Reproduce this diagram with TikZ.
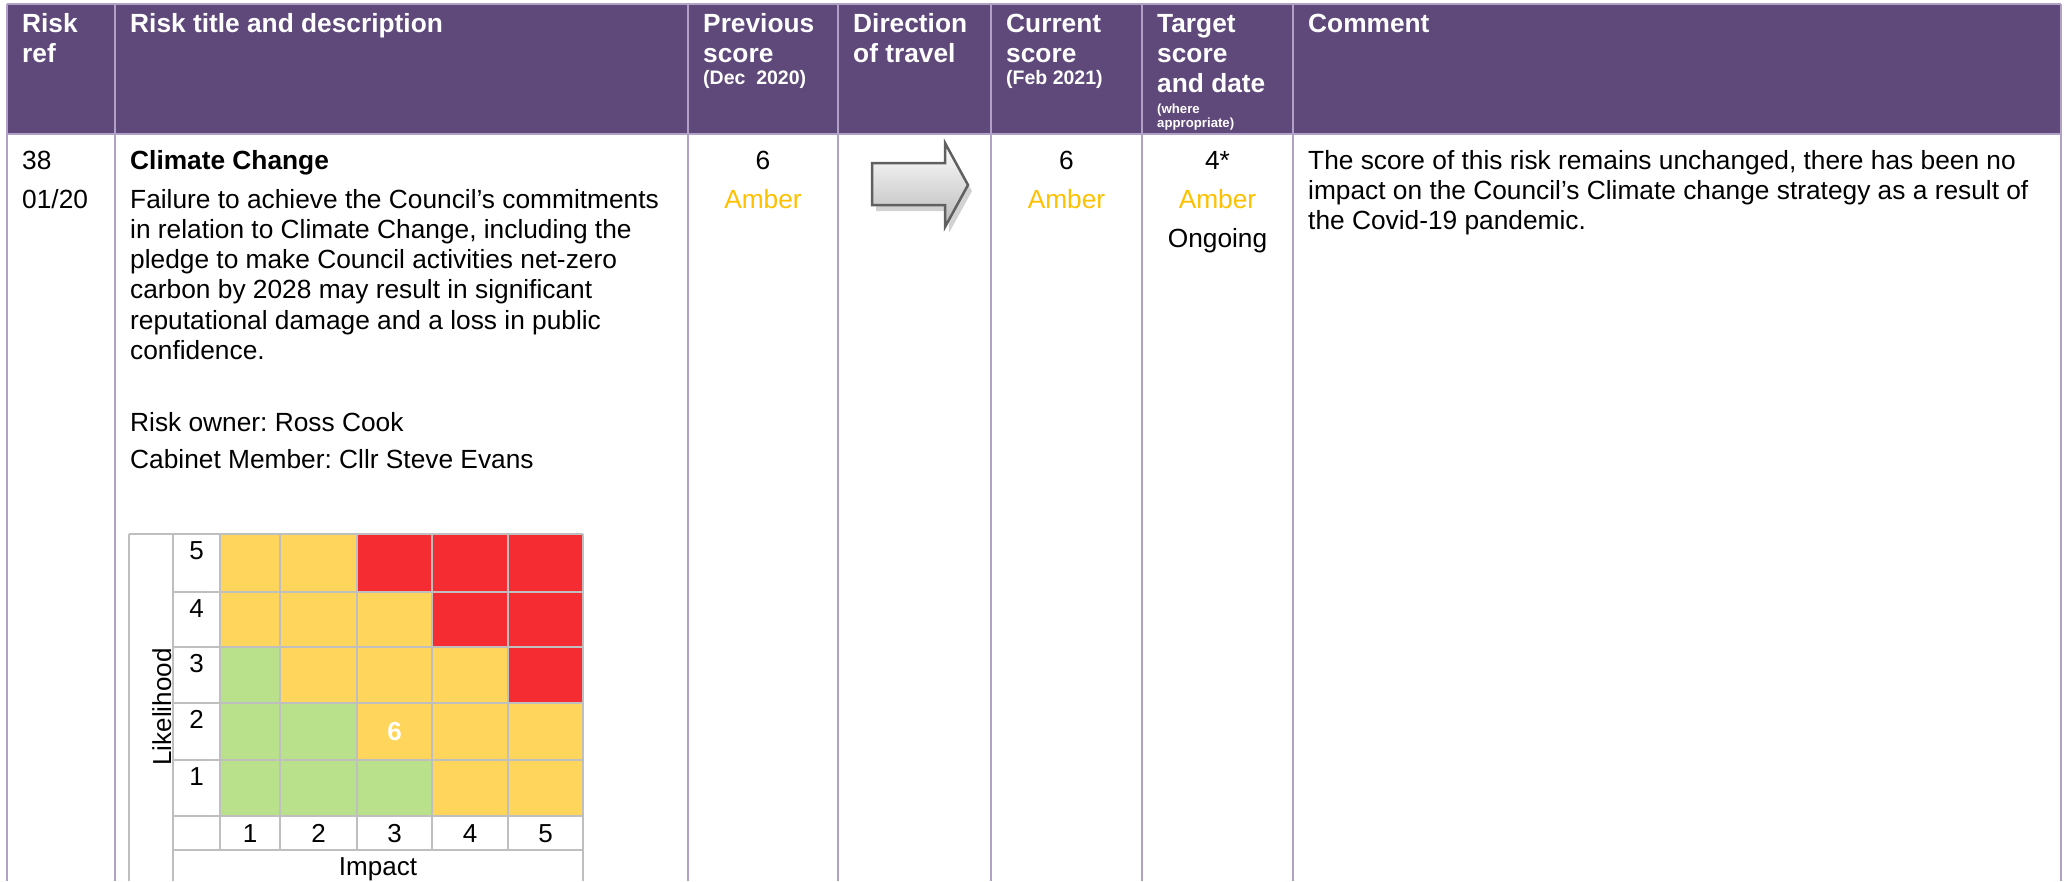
\documentclass[tikz,border=0pt]{standalone}
\usepackage{fontspec}
\setmainfont{Liberation Sans}
\frenchspacing
\definecolor{hdpurple}{HTML}{5F497A}
\definecolor{lnpurple}{HTML}{B2A1C7}
\definecolor{amber}{HTML}{FFC000}
\definecolor{mxa}{HTML}{FFD65B}
\definecolor{mxr}{HTML}{F52C32}
\definecolor{mxg}{HTML}{B9E08A}
\definecolor{mxgray}{HTML}{BFBFBF}
\tikzset{
	hd/.style = {anchor=base west, inner sep=0pt, text=white, font=\bfseries\fontsize{26.3}{30}\selectfont},
	hdsm/.style = {hd, font=\bfseries\fontsize{19.5}{22}\selectfont},
	hdxs/.style = {hd, font=\bfseries\fontsize{13.2}{15}\selectfont},
	txt/.style = {anchor=base west, inner sep=0pt, font=\fontsize{26.3}{30.3}\selectfont},
	ctxt/.style = {txt, anchor=base},
	amb/.style = {ctxt, text=amber},
	mxnum/.style = {anchor=base, inner sep=0pt, font=\fontsize{26}{30}\selectfont},
	tblline/.style = {lnpurple, line width=2pt},
	mxline/.style = {mxgray, line width=2pt}
}
\begin{document}
\begin{tikzpicture}[x=1pt, y=-1pt]
	\useasboundingbox (0,0) rectangle (2067,881);
	\fill[hdpurple] (7,4) rectangle (2061,134);
	\foreach \x/\y/\t [count=\i] in {22/32/Risk, 22/62/ref, 130/32/Risk title and description, 703/32/Previous, 703/62/score, 853/32/Direction, 853/62/of travel, 1006/32/Current, 1006/62/score, 1157/32/Target, 1157/62/score, 1157/92/and date, 1308/32/Comment}
		\node[hd] (hd\i) at (\x,\y) {\t};
	\node[hdsm] (prevdate) at (703,84) {(Dec\ \ 2020)};
	\node[hdsm] (curdate) at (1006,84) {(Feb 2021)};
	\node[hdxs] (where1) at (1157,113) {(where};
	\node[hdxs] (where2) at (1157,127) {appropriate)};
	\draw[tblline] (7,4) -- (2061,4);
	\draw[tblline] (7,134) -- (2061,134);
	\foreach \x in {7,115,688,838,991,1142,1293,2061}
		\draw[tblline] (\x,4) -- (\x,881);
	\node[txt] (ref) at (22,169) {38};
	\node[txt] (refdate) at (22,208) {01/20};
	\node[txt, font=\bfseries\fontsize{26.3}{30.3}\selectfont] (title) at (130,169) {Climate Change};
	\foreach \t [count=\i] in {Failure to achieve the Council’s commitments, {in relation to Climate Change, including the}, pledge to make Council activities net-zero, carbon by 2028 may result in significant, reputational damage and a loss in public, confidence.}
		\node[txt] (desc\i) at (130,177.7+30.3*\i) {\t};
	\node[txt] (owner) at (130,431) {Risk owner: Ross Cook};
	\node[txt] (member) at (130,468) {Cabinet Member: Cllr Steve Evans};
	\node[ctxt] (prevscore) at (763,169) {6};
	\node[amb] (prevrag) at (763,208) {Amber};
	\node[ctxt] (curscore) at (1066.5,169) {6};
	\node[amb] (currag) at (1066.5,208) {Amber};
	\node[ctxt] (tgtscore) at (1217.5,169) {4*};
	\node[amb] (tgtrag) at (1217.5,208) {Amber};
	\node[ctxt] (tgtdate) at (1217.5,247) {Ongoing};
	\foreach \t [count=\i] in {{The score of this risk remains unchanged, there has been no}, {impact on the Council’s Climate change strategy as a result of}, the Covid-19 pandemic.}
		\node[txt] (comment\i) at (1308,139+30*\i) {\t};
	\fill[gray!35, shift={(4,6)}] (872,163) -- (945,163) -- (945,143) -- (968,185) -- (945,227) -- (945,205) -- (872,205) -- cycle;
	\draw[top color=white, bottom color=gray!55, draw=gray!75!black, line width=2.5pt] (872,163) -- (945,163) -- (945,143) -- (968,185) -- (945,227) -- (945,205) -- (872,205) -- cycle;
	\foreach \r/\ya/\yb/\cl in {5/534/592/{mxa,mxa,mxr,mxr,mxr}, 4/592/647/{mxa,mxa,mxa,mxr,mxr}, 3/647/703/{mxg,mxa,mxa,mxa,mxr}, 2/703/760/{mxg,mxg,mxa,mxa,mxa}, 1/760/816/{mxg,mxg,mxg,mxa,mxa}} {
		\foreach \cc [count=\c] in \cl {
			\pgfmathsetmacro\xa{{220,280,357,432,508}[\c-1]}
			\pgfmathsetmacro\xb{{280,357,432,508,583}[\c-1]}
			\fill[\cc] (\xa,\ya) rectangle (\xb,\yb);
		}
		\node[mxnum] (lik\r) at (196.5,\ya+25) {\r};
	}
	\draw[mxline] (129,534) -- (583,534);
	\foreach \y in {592,647,703,760,816,850}
		\draw[mxline] (173,\y) -- (583,\y);
	\foreach \x in {129,173,583}
		\draw[mxline] (\x,534) -- (\x,881);
	\foreach \x in {220,280,357,432,508}
		\draw[mxline] (\x,534) -- (\x,850);
	\foreach \c/\xm in {1/250, 2/318.5, 3/394.5, 4/470, 5/545.5}
		\node[mxnum] (imp\c) at (\xm,842) {\c};
	\node[mxnum] (impact) at (378,875) {Impact};
	\node[mxnum, rotate=90] (likelihood) at (171,707) {Likelihood};
	\node[mxnum, text=white, font=\bfseries\fontsize{26}{30}\selectfont] (score) at (394.5,740) {6};
\end{tikzpicture}
\end{document}
